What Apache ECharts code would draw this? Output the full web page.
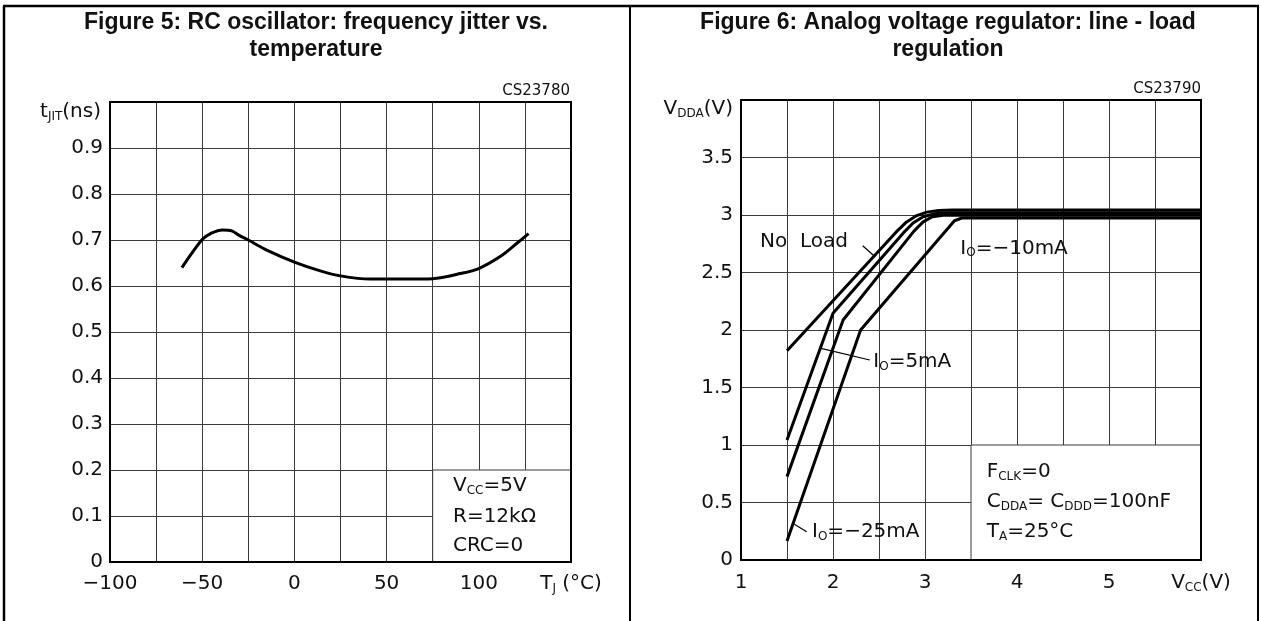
<!DOCTYPE html>
<html><head><meta charset="utf-8">
<script src="https://cdn.jsdelivr.net/npm/echarts@6/dist/echarts.min.js"></script>
<style>html,body{margin:0;padding:0;background:#fff}#c{width:1261px;height:621px}</style>
</head><body><div id="c"></div>
<script>
// ---------- Figure 5 data ----------
const fig5Title = ['Figure 5: RC oscillator: frequency jitter vs.', 'temperature'];
const fig5Code = 'CS23780';
const jitTemp = [-61, -50, -45, -39, -34, -30, -25, -15, 0, 14, 25, 41, 61, 75, 90, 100, 112, 121, 127];
const jitNs   = [0.640, 0.701, 0.715, 0.722, 0.720, 0.710, 0.700, 0.678, 0.652, 0.633, 0.622, 0.615, 0.615, 0.616, 0.627, 0.638, 0.665, 0.694, 0.714];
const fig5XLabels = [-100, -50, 0, 50, 100];
const fig5Notes = ['{n|V}{s|CC}{n|=5V}', '{n|R=12kΩ}', '{n|CRC=0}'];

// ---------- Figure 6 data ----------
const fig6Title = ['Figure 6: Analog voltage regulator: line - load', 'regulation'];
const fig6Code = 'CS23790';
const noLoadVcc = [1.5, 2.69, 2.80, 2.91, 3.02, 3.15, 3.3, 6];
const noLoadVdda = [1.82, 2.855, 2.94, 2.995, 3.025, 3.04, 3.043, 3.043];
const io5Vcc = [1.5, 2.0, 2.76, 2.87, 2.98, 3.1, 3.25, 6];
const io5Vdda = [1.043, 2.145, 2.84, 2.93, 2.985, 3.01, 3.02, 3.02];
const io10Vcc = [1.5, 2.11, 2.88, 2.98, 3.08, 3.2, 6];
const io10Vdda = [0.725, 2.087, 2.86, 2.94, 2.985, 2.997, 2.997];
const io25Vcc = [1.5, 2.3, 3.32, 3.4, 6];
const io25Vdda = [0.165, 2.0, 2.95, 2.974, 2.974];
const fig6XLabels = [1, 2, 3, 4, 5];
const fig6Notes = ['{n|F}{s|CLK}{n|=0}', '{n|C}{s|DDA}{n|= C}{s|DDD}{n|=100nF}', '{n|T}{s|A}{n|=25°C}'];

const FF = '"DejaVu Sans", sans-serif';
const TF = '"Liberation Sans", Arial, sans-serif';
const GRID = '#3a3a3a';
const TXT = '#111';
const zip = (a, b) => a.map((v, i) => [v, b[i]]);

const richAxis = {
  n: {fontSize: 20, fontFamily: FF, color: TXT, lineHeight: 22},
  s: {fontSize: 12, fontFamily: FF, color: TXT, verticalAlign: 'bottom', lineHeight: 8}
};
const richG = {
  n: {fontSize: 20, fontFamily: FF, fill: TXT, lineHeight: 22},
  s: {fontSize: 12, fontFamily: FF, fill: TXT, verticalAlign: 'bottom', lineHeight: 8}
};
const minus = v => (v < 0 ? '\u2212' + Math.abs(v) : String(v));

const chart = echarts.init(document.getElementById('c'), null, {renderer: 'canvas', width: 1261, height: 621});

function lineSeries(gi, data, smooth, extra) {
  return Object.assign({
    type: 'line', xAxisIndex: gi, yAxisIndex: gi, data: data, smooth: smooth,
    showSymbol: false, symbol: 'none', silent: true, animation: false,
    lineStyle: {color: '#000', width: 3}
  }, extra || {});
}

chart.setOption({
  animation: false,
  backgroundColor: '#fff',
  grid: [
    {left: 110, top: 102, width: 461, height: 460, show: false},
    {left: 741, top: 100, width: 460, height: 460, show: false}
  ],
  xAxis: [
    {type: 'value', gridIndex: 0, min: -100, max: 150, interval: 25,
      axisLine: {show: false}, axisTick: {show: false},
      splitLine: {show: true, lineStyle: {color: GRID, width: 1}},
      axisLabel: {margin: 11, showMinLabel: true, showMaxLabel: true, hideOverlap: false,
        rich: richAxis,
        formatter: v => v === 150 ? '{n|T}{s|J}{n| (°C)}' : (fig5XLabels.indexOf(v) >= 0 ? '{n|' + minus(v) + '}' : '')}},
    {type: 'value', gridIndex: 1, min: 1, max: 6, interval: 0.5,
      axisLine: {show: false}, axisTick: {show: false},
      splitLine: {show: true, lineStyle: {color: GRID, width: 1}},
      axisLabel: {margin: 12, showMinLabel: true, showMaxLabel: true, hideOverlap: false,
        rich: richAxis,
        formatter: v => v === 6 ? '{n|V}{s|CC}{n|(V)}' : (fig6XLabels.indexOf(v) >= 0 ? '{n|' + v + '}' : '')}}
  ],
  yAxis: [
    {type: 'value', gridIndex: 0, min: 0, max: 1, interval: 0.1,
      axisLine: {show: false}, axisTick: {show: false},
      splitLine: {show: true, lineStyle: {color: GRID, width: 1}},
      axisLabel: {margin: 7, showMinLabel: true, showMaxLabel: true, color: TXT, fontSize: 20, fontFamily: FF,
        formatter: v => v === 0 ? '0' : (v > 0.95 ? '' : v.toFixed(1))}},
    {type: 'value', gridIndex: 1, min: 0, max: 4, interval: 0.5,
      axisLine: {show: false}, axisTick: {show: false},
      splitLine: {show: true, lineStyle: {color: GRID, width: 1}},
      axisLabel: {margin: 8, showMinLabel: true, showMaxLabel: true, color: TXT, fontSize: 20, fontFamily: FF,
        formatter: v => v >= 4 ? '' : String(v)}}
  ],
  series: [
    lineSeries(0, zip(jitTemp, jitNs), 0.3, {
      markArea: {silent: true, itemStyle: {color: '#fff', borderColor: GRID, borderWidth: 1},
        data: [[{coord: [75, 0]}, {coord: [150, 0.2]}]]}
    }),
    lineSeries(1, zip(noLoadVcc, noLoadVdda), false, {
      markArea: {silent: true, itemStyle: {color: '#fff', borderColor: GRID, borderWidth: 1},
        data: [[{coord: [3.5, 0]}, {coord: [6, 1]}]]}
    }),
    lineSeries(1, zip(io5Vcc, io5Vdda), false),
    lineSeries(1, zip(io10Vcc, io10Vdda), false),
    lineSeries(1, zip(io25Vcc, io25Vdda), false)
  ]
});

function px(gi, x, y) { return chart.convertToPixel({gridIndex: gi}, [x, y]); }
function txt(p, text, align, opts) {
  const st = Object.assign({
    text: text, x: p[0], y: p[1], rich: richG,
    font: '20px ' + FF, fill: TXT,
    align: align, textAlign: align, verticalAlign: 'middle', textVerticalAlign: 'middle'
  }, opts || {});
  return {type: 'text', z: 100, silent: true, style: st};
}
function seg(a, b, w) {
  return {type: 'line', z: 100, silent: true, shape: {x1: a[0], y1: a[1], x2: b[0], y2: b[1]},
    style: {stroke: '#000', lineWidth: w || 1.2}};
}
function frame(gi, x0, y0, x1, y1) {
  const a = px(gi, x0, y1), b = px(gi, x1, y0);
  return {type: 'rect', z: 100, silent: true, shape: {x: a[0], y: a[1], width: b[0] - a[0], height: b[1] - a[1]},
    style: {fill: 'none', stroke: '#000', lineWidth: 2}};
}

const g = [];
// page frame
g.push({type: 'line', z: 100, silent: true, shape: {x1: 3, y1: 6, x2: 1259, y2: 6}, style: {stroke: '#000', lineWidth: 2.5}});
g.push({type: 'line', z: 100, silent: true, shape: {x1: 4, y1: 6, x2: 4, y2: 621}, style: {stroke: '#000', lineWidth: 2.5}});
g.push({type: 'line', z: 100, silent: true, shape: {x1: 630, y1: 6, x2: 630, y2: 621}, style: {stroke: '#000', lineWidth: 2}});
g.push({type: 'line', z: 100, silent: true, shape: {x1: 1258, y1: 6, x2: 1258, y2: 621}, style: {stroke: '#000', lineWidth: 2}});
// titles
const titleFont = 'bold 23px ' + TF;
g.push(txt([316, 23], fig5Title[0], 'center', {font: titleFont, fill: '#111', rich: null}));
g.push(txt([316, 49.5], fig5Title[1], 'center', {font: titleFont, fill: '#111', rich: null}));
g.push(txt([948, 23], fig6Title[0], 'center', {font: titleFont, fill: '#111', rich: null}));
g.push(txt([948, 49.5], fig6Title[1], 'center', {font: titleFont, fill: '#111', rich: null}));
// plot frames
g.push(frame(0, -100, 0, 150, 1));
g.push(frame(1, 1, 0, 6, 4));
// figure codes
const c5 = px(0, 150, 1), c6 = px(1, 6, 4);
g.push(txt([c5[0] - 1, c5[1] - 11], fig5Code, 'right', {font: '15px ' + FF, rich: null}));
g.push(txt([c6[0], c6[1] - 11], fig6Code, 'right', {font: '15px ' + FF, rich: null}));
// axis names
const y5 = px(0, -100, 1), y6 = px(1, 1, 4);
g.push(txt([y5[0] - 9, y5[1] + 9.5], '{n|t}{s|JIT}{n|(ns)}', 'right'));
g.push(txt([y6[0] - 8, y6[1] + 8.5], '{n|V}{s|DDA}{n|(V)}', 'right'));
// notes fig 5
g.push(txt(px(0, 86, 0.165), fig5Notes[0], 'left'));
g.push(txt(px(0, 86, 0.0987), fig5Notes[1], 'left'));
g.push(txt(px(0, 86, 0.0348), fig5Notes[2], 'left'));
// notes fig 6
g.push(txt(px(1, 3.671, 0.768), fig6Notes[0], 'left'));
g.push(txt(px(1, 3.671, 0.507), fig6Notes[1], 'left'));
g.push(txt(px(1, 3.671, 0.246), fig6Notes[2], 'left'));
// curve labels fig 6
g.push(txt(px(1, 1.207, 2.768), '{n|No  Load}', 'left'));
g.push(txt(px(1, 3.384, 2.71), '{n|I}{s|O}{n|=\u221210mA}', 'left'));
g.push(txt(px(1, 2.438, 1.724), '{n|I}{s|O}{n|=5mA}', 'left'));
g.push(txt(px(1, 1.772, 0.246), '{n|I}{s|O}{n|=\u221225mA}', 'left'));
g.push(seg(px(1, 2.323, 2.733), px(1, 2.457, 2.637)));
g.push(seg(px(1, 2.40, 1.739), px(1, 1.87, 1.84)));
g.push(seg(px(1, 1.714, 0.246), px(1, 1.58, 0.31)));

chart.setOption({graphic: {elements: g}});
</script>
</body></html>
